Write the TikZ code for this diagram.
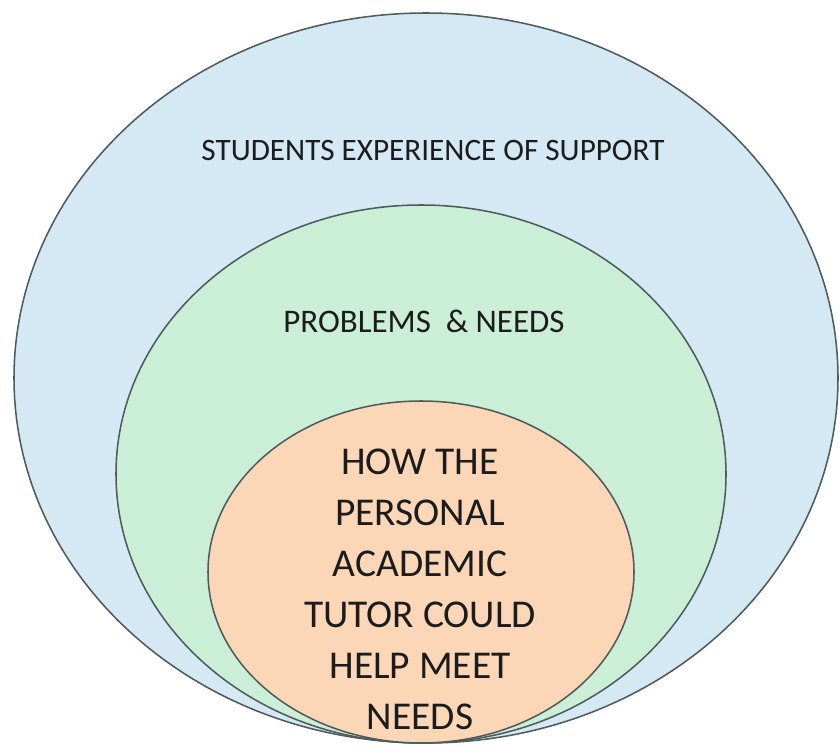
\documentclass[tikz,border=0pt]{standalone}
\usepackage{fontspec}
\setmainfont{Carlito}
\usepackage{xcolor}
\definecolor{outerblue}{HTML}{D4E9F3}
\definecolor{midgreen}{HTML}{CBEFD6}
\definecolor{innerpeach}{HTML}{FBD7B8}
\definecolor{rimgray}{HTML}{4F5A5A}
\definecolor{inktext}{HTML}{1C1C1C}

\tikzset{
    ring/.style={draw=rimgray, line width=1.3pt},
    label/.style={text=inktext, align=center, inner sep=0pt}
}

\begin{document}
\begin{tikzpicture}[x=0.85pt, y=-0.85pt]
        \useasboundingbox (0,0) rectangle (840,747);

        % outer ring: students experience
        \draw[ring, fill=outerblue] (426,378) ellipse [x radius=412, y radius=365];
        \node[label, font=\fontsize{26.5}{30}\selectfont] (support) at (433,150) {STUDENTS EXPERIENCE OF SUPPORT};

        % middle ring: problems and needs
        \draw[ring, fill=midgreen] (421,474) ellipse [x radius=305, y radius=269];
        \node[label, font=\fontsize{28}{32}\selectfont] (needs) at (424,321) {PROBLEMS \ \& NEEDS};

        % inner ring: the personal academic tutor
        \draw[ring, fill=innerpeach] (421,572) ellipse [x radius=213, y radius=171];
        \node[label, font=\fontsize{33.5}{43.4}\selectfont] (tutor) at (420,589)
            {HOW THE\\PERSONAL\\ACADEMIC\\TUTOR COULD\\HELP MEET\\NEEDS};
    \end{tikzpicture}
\end{document}
